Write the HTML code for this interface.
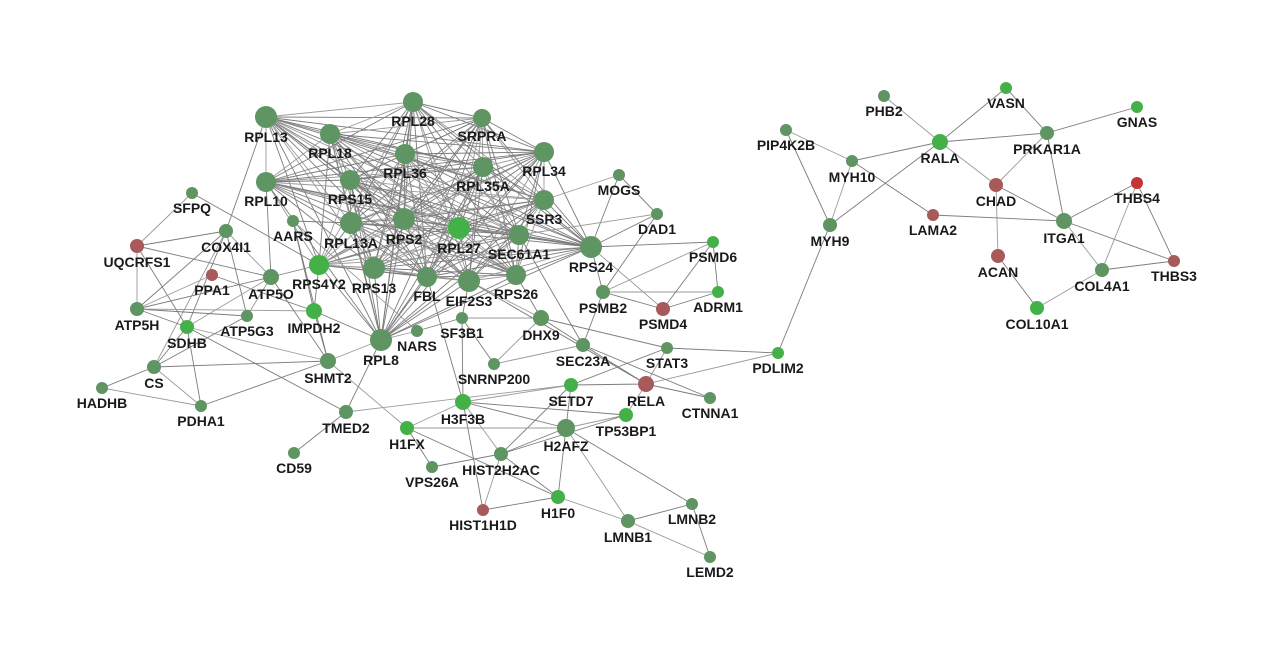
<!DOCTYPE html>
<html><head><meta charset="utf-8">
<style>
html,body{margin:0;padding:0;background:#fff;}
svg{display:block}
text{font-family:"Liberation Sans",sans-serif;font-weight:bold;font-size:14px;fill:#1a1a1a;text-anchor:middle;}
</style></head>
<body>
<svg id="s" width="1270" height="670" viewBox="0 0 1270 670">
<g id="edges"></g>
<g id="nodes"></g>
<g id="labels">
<text x="266" y="142">RPL13</text>
<text x="413" y="126">RPL28</text>
<text x="482" y="141">SRPRA</text>
<text x="330" y="158">RPL18</text>
<text x="405" y="178">RPL36</text>
<text x="544" y="176">RPL34</text>
<text x="483" y="191">RPL35A</text>
<text x="266" y="206">RPL10</text>
<text x="350" y="204">RPS15</text>
<text x="192" y="213">SFPQ</text>
<text x="619" y="195">MOGS</text>
<text x="544" y="224">SSR3</text>
<text x="657" y="234">DAD1</text>
<text x="293" y="241">AARS</text>
<text x="226" y="252">COX4I1</text>
<text x="351" y="248">RPL13A</text>
<text x="404" y="244">RPS2</text>
<text x="459" y="253">RPL27</text>
<text x="519" y="259">SEC61A1</text>
<text x="591" y="272">RPS24</text>
<text x="713" y="262">PSMD6</text>
<text x="137" y="267">UQCRFS1</text>
<text x="212" y="295">PPA1</text>
<text x="271" y="299">ATP5O</text>
<text x="319" y="289">RPS4Y2</text>
<text x="374" y="293">RPS13</text>
<text x="427" y="301">FBL</text>
<text x="469" y="306">EIF2S3</text>
<text x="516" y="299">RPS26</text>
<text x="603" y="313">PSMB2</text>
<text x="663" y="329">PSMD4</text>
<text x="718" y="312">ADRM1</text>
<text x="137" y="330">ATP5H</text>
<text x="187" y="348">SDHB</text>
<text x="247" y="336">ATP5G3</text>
<text x="314" y="333">IMPDH2</text>
<text x="381" y="365">RPL8</text>
<text x="417" y="351">NARS</text>
<text x="462" y="338">SF3B1</text>
<text x="541" y="340">DHX9</text>
<text x="583" y="366">SEC23A</text>
<text x="667" y="368">STAT3</text>
<text x="778" y="373">PDLIM2</text>
<text x="154" y="388">CS</text>
<text x="328" y="383">SHMT2</text>
<text x="494" y="384">SNRNP200</text>
<text x="102" y="408">HADHB</text>
<text x="201" y="426">PDHA1</text>
<text x="646" y="406">RELA</text>
<text x="571" y="406">SETD7</text>
<text x="710" y="418">CTNNA1</text>
<text x="346" y="433">TMED2</text>
<text x="463" y="424">H3F3B</text>
<text x="626" y="436">TP53BP1</text>
<text x="407" y="449">H1FX</text>
<text x="566" y="451">H2AFZ</text>
<text x="294" y="473">CD59</text>
<text x="432" y="487">VPS26A</text>
<text x="501" y="475">HIST2H2AC</text>
<text x="558" y="518">H1F0</text>
<text x="483" y="530">HIST1H1D</text>
<text x="692" y="524">LMNB2</text>
<text x="628" y="542">LMNB1</text>
<text x="710" y="577">LEMD2</text>
<text x="884" y="116">PHB2</text>
<text x="1006" y="108">VASN</text>
<text x="1137" y="127">GNAS</text>
<text x="786" y="150">PIP4K2B</text>
<text x="940" y="163">RALA</text>
<text x="1047" y="154">PRKAR1A</text>
<text x="852" y="182">MYH10</text>
<text x="996" y="206">CHAD</text>
<text x="1137" y="203">THBS4</text>
<text x="933" y="235">LAMA2</text>
<text x="830" y="246">MYH9</text>
<text x="1064" y="243">ITGA1</text>
<text x="998" y="277">ACAN</text>
<text x="1174" y="281">THBS3</text>
<text x="1102" y="291">COL4A1</text>
<text x="1037" y="329">COL10A1</text>
</g>
</svg>
<script>
var G="#5f9463",B="#44b048",R="#a85a5a",RR="#c83434";
var N={
RPL13:[266,117,11,G],RPL28:[413,102,10,G],SRPRA:[482,118,9,G],RPL18:[330,134,10,G],RPL36:[405,154,10,G],
RPL34:[544,152,10,G],RPL35A:[483,167,10,G],RPL10:[266,182,10,G],RPS15:[350,180,10,G],SFPQ:[192,193,6,G],
MOGS:[619,175,6,G],SSR3:[544,200,10,G],DAD1:[657,214,6,G],AARS:[293,221,6,G],COX4I1:[226,231,7,G],
RPL13A:[351,223,11,G],RPS2:[404,219,11,G],RPL27:[459,228,11,B],SEC61A1:[519,235,10,G],RPS24:[591,247,11,G],
PSMD6:[713,242,6,B],UQCRFS1:[137,246,7,R],PPA1:[212,275,6,R],ATP5O:[271,277,8,G],RPS4Y2:[319,265,10,B],
RPS13:[374,268,11,G],FBL:[427,277,10,G],EIF2S3:[469,281,11,G],RPS26:[516,275,10,G],PSMB2:[603,292,7,G],
PSMD4:[663,309,7,R],ADRM1:[718,292,6,B],ATP5H:[137,309,7,G],SDHB:[187,327,7,B],ATP5G3:[247,316,6,G],
IMPDH2:[314,311,8,B],RPL8:[381,340,11,G],NARS:[417,331,6,G],SF3B1:[462,318,6,G],DHX9:[541,318,8,G],
SEC23A:[583,345,7,G],STAT3:[667,348,6,G],PDLIM2:[778,353,6,B],CS:[154,367,7,G],SHMT2:[328,361,8,G],
SNRNP200:[494,364,6,G],HADHB:[102,388,6,G],PDHA1:[201,406,6,G],RELA:[646,384,8,R],SETD7:[571,385,7,B],
CTNNA1:[710,398,6,G],TMED2:[346,412,7,G],H3F3B:[463,402,8,B],TP53BP1:[626,415,7,B],H1FX:[407,428,7,B],
H2AFZ:[566,428,9,G],CD59:[294,453,6,G],VPS26A:[432,467,6,G],HIST2H2AC:[501,454,7,G],H1F0:[558,497,7,B],
HIST1H1D:[483,510,6,R],LMNB2:[692,504,6,G],LMNB1:[628,521,7,G],LEMD2:[710,557,6,G],
PHB2:[884,96,6,G],VASN:[1006,88,6,B],GNAS:[1137,107,6,B],PIP4K2B:[786,130,6,G],RALA:[940,142,8,B],
PRKAR1A:[1047,133,7,G],MYH10:[852,161,6,G],CHAD:[996,185,7,R],THBS4:[1137,183,6,RR],LAMA2:[933,215,6,R],
MYH9:[830,225,7,G],ITGA1:[1064,221,8,G],ACAN:[998,256,7,R],THBS3:[1174,261,6,R],COL4A1:[1102,270,7,G],COL10A1:[1037,308,7,B]
};
var core=["RPL13","RPL28","SRPRA","RPL18","RPL36","RPL34","RPL35A","RPL10","RPS15","SSR3","RPL13A","RPS2","RPL27","SEC61A1","RPS24","RPS4Y2","RPS13","FBL","EIF2S3","RPS26","RPL8"];
var E=[];
for(var i=0;i<core.length;i++)for(var j=i+1;j<core.length;j++)E.push([core[i],core[j]]);
var ex="SFPQ-UQCRFS1 SFPQ-RPS4Y2 COX4I1-UQCRFS1 COX4I1-ATP5O COX4I1-ATP5H COX4I1-SDHB COX4I1-CS COX4I1-ATP5G3 COX4I1-RPL13 UQCRFS1-ATP5H UQCRFS1-ATP5O UQCRFS1-SDHB PPA1-ATP5H PPA1-IMPDH2 ATP5O-ATP5H ATP5O-ATP5G3 ATP5O-RPL10 ATP5O-RPS4Y2 ATP5O-SDHB ATP5H-ATP5G3 ATP5H-SDHB ATP5H-IMPDH2 SDHB-CS SDHB-PDHA1 SDHB-SHMT2 SDHB-TMED2 CS-HADHB CS-PDHA1 CS-SHMT2 CS-ATP5G3 HADHB-PDHA1 PDHA1-SHMT2 SHMT2-IMPDH2 SHMT2-RPL8 SHMT2-AARS SHMT2-ATP5O SHMT2-H1FX AARS-IMPDH2 AARS-RPL13A AARS-NARS IMPDH2-RPS4Y2 IMPDH2-RPL8 RPL8-NARS RPL8-TMED2 TMED2-CD59 TMED2-SETD7 NARS-SF3B1 SF3B1-SNRNP200 SF3B1-DHX9 SF3B1-H3F3B SF3B1-EIF2S3 DHX9-SNRNP200 DHX9-SEC23A DHX9-RPS26 DHX9-EIF2S3 DHX9-STAT3 SEC23A-PSMB2 SEC23A-SNRNP200 SEC23A-RELA SEC23A-SEC61A1 PSMB2-PSMD6 PSMB2-PSMD4 PSMB2-RPS24 PSMB2-ADRM1 PSMD4-ADRM1 PSMD4-PSMD6 PSMD4-RPS24 MOGS-DAD1 MOGS-RPS24 MOGS-SSR3 DAD1-RPS24 DAD1-PSMB2 DAD1-SEC61A1 RPS24-PSMD6 PSMD6-ADRM1 STAT3-RELA STAT3-PDLIM2 STAT3-SETD7 RELA-PDLIM2 RELA-CTNNA1 RELA-SETD7 RELA-TP53BP1 RELA-EIF2S3 SEC23A-CTNNA1 SETD7-H3F3B SETD7-H2AFZ SETD7-HIST2H2AC H3F3B-H1FX H3F3B-H2AFZ H3F3B-TP53BP1 H3F3B-HIST2H2AC H3F3B-HIST1H1D H3F3B-FBL H1FX-H2AFZ H1FX-VPS26A H1FX-H1F0 H2AFZ-TP53BP1 H2AFZ-HIST2H2AC H2AFZ-H1F0 H2AFZ-LMNB1 H2AFZ-LMNB2 HIST2H2AC-TP53BP1 HIST2H2AC-HIST1H1D HIST2H2AC-H1F0 HIST2H2AC-VPS26A H1F0-LMNB1 H1F0-HIST1H1D LMNB1-LMNB2 LMNB1-LEMD2 LMNB2-LEMD2 PDLIM2-MYH9 MYH9-MYH10 MYH9-PIP4K2B MYH9-RALA MYH10-PIP4K2B MYH10-RALA MYH10-LAMA2 RALA-PHB2 RALA-VASN RALA-PRKAR1A RALA-CHAD VASN-PRKAR1A PRKAR1A-GNAS PRKAR1A-CHAD PRKAR1A-ITGA1 CHAD-ITGA1 CHAD-ACAN LAMA2-ITGA1 ITGA1-THBS4 ITGA1-COL4A1 ITGA1-THBS3 THBS4-THBS3 THBS4-COL4A1 THBS3-COL4A1 ACAN-COL10A1 COL4A1-COL10A1";
ex.split(" ").forEach(function(p){E.push(p.split("-"));});
var ns="http://www.w3.org/2000/svg",ge=document.getElementById("edges"),gn=document.getElementById("nodes");
E.forEach(function(e,k){var a=N[e[0]],b=N[e[1]];if(!a||!b)return;
var l=document.createElementNS(ns,"line");l.setAttribute("x1",a[0]);l.setAttribute("y1",a[1]);l.setAttribute("x2",b[0]);l.setAttribute("y2",b[1]);
l.setAttribute("stroke",k%3==0?"#9a9a9a":"#7c7c7c");l.setAttribute("stroke-width","0.9");ge.appendChild(l);});
for(var n in N){var v=N[n];var c=document.createElementNS(ns,"circle");c.setAttribute("cx",v[0]);c.setAttribute("cy",v[1]);c.setAttribute("r",v[2]);c.setAttribute("fill",v[3]);gn.appendChild(c);}
</script>
</body></html>
